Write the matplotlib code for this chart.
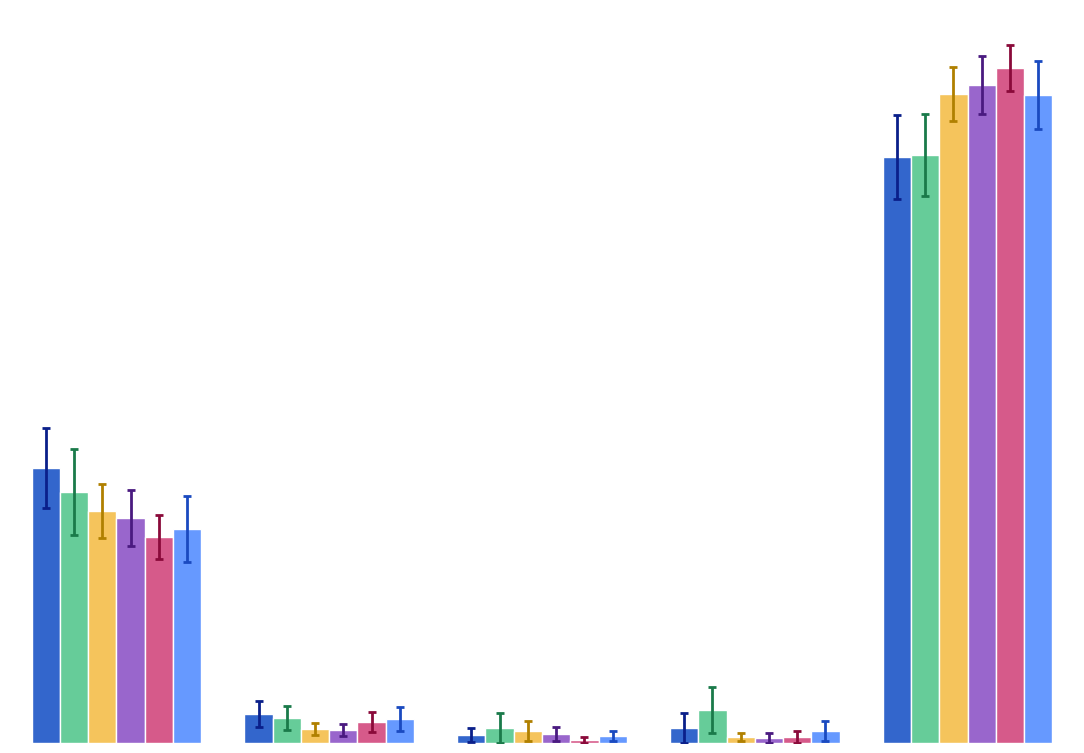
import matplotlib.pyplot as plt
import numpy as np

groups = ['A', 'B', 'C', 'D', 'E']
series = ['s1', 's2', 's3', 's4', 's5', 's6']
values = [
    [275, 29, 8, 15, 586],
    [251, 25, 15, 33, 588],
    [232, 14, 12, 6, 649],
    [225, 13, 9, 5, 658],
    [206, 21, 3, 6, 675],
    [214, 24, 7, 12, 648],
]
errors = [
    [40, 13, 7, 15, 42],
    [43, 12, 15, 23, 41],
    [27, 6, 10, 4, 27],
    [28, 6, 7, 5, 29],
    [22, 10, 3, 6, 23],
    [33, 12, 5, 10, 34],
]
colors = ['#3366cc', '#66cc99', '#f5c45c', '#9966cc', '#d65a8a', '#6699ff']
err_colors = ['#0a1f8a', '#1a7a4a', '#b08000', '#4a1a80', '#8a0a3a', '#1a4ac0']

fig = plt.figure(figsize=(10.84, 7.53), dpi=100)
ax = fig.add_axes([0, 10 / 753, 1, 743 / 753])
x = np.arange(len(groups))
w = 28.3 / 213
for i in range(len(series)):
    pos = x + (i - 2.5) * w
    ax.bar(pos, values[i], w, color=colors[i], edgecolor='white', linewidth=1)
    ax.errorbar(pos, values[i], yerr=errors[i], fmt='none', ecolor=err_colors[i],
                elinewidth=2, capsize=3, capthick=2)
ax.set_xlim(-116.5 / 213, 4 + (1084 - 967.5) / 213)
ax.set_ylim(0, 743)
ax.set_axis_off()
fig.savefig('out.png')
